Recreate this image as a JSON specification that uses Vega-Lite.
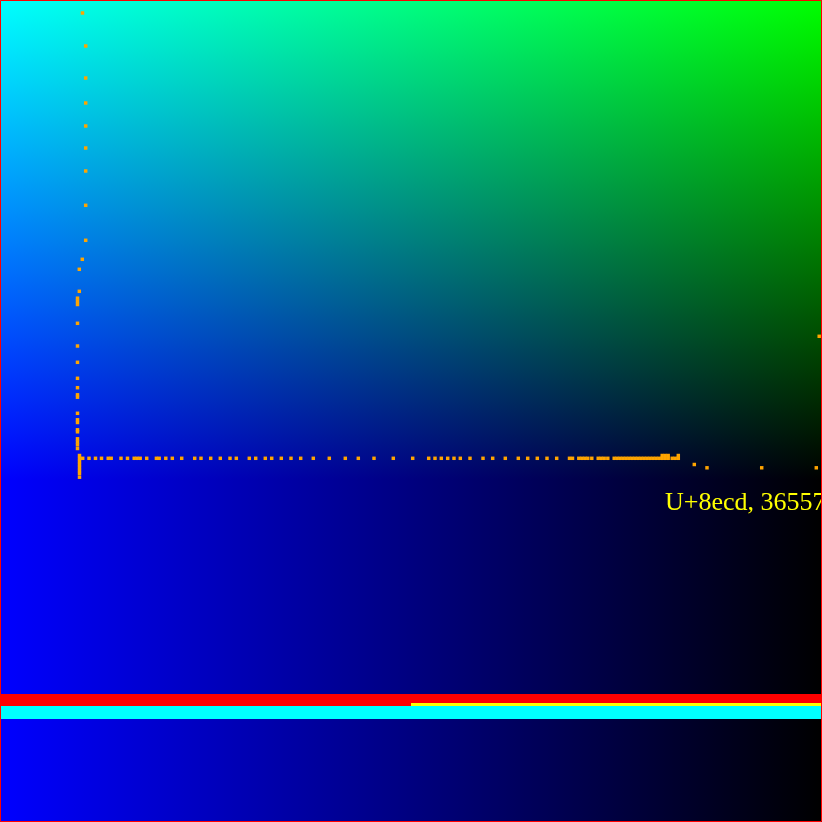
{
  "$schema": "https://vega.github.io/schema/vega-lite/v6.json",
  "width": 822,
  "height": 822,
  "padding": 0,
  "autosize": {"type": "none"},
  "background": "#000000",
  "config": {"view": {"stroke": null}},
  "datasets": {
    "bg": [{"x0": 0, "x1": 822, "y0": 0, "y1": 822}],
    "greenZone": [{"x0": 0, "x1": 822, "y0": 0, "y1": 480}],
    "bands": [
      {"band": "red", "x0": 0, "x1": 822, "y0": 694, "y1": 706},
      {"band": "yellow", "x0": 411, "x1": 822, "y0": 703, "y1": 706},
      {"band": "cyan", "x0": 0, "x1": 822, "y0": 706, "y1": 719}
    ],
    "border": [{"x0": 0.5, "x1": 821.5, "y0": 0.5, "y1": 821.5}],
    "label": [{"x": 665, "y": 510, "text": "U+8ecd, 36557"}],
    "dots": [
      {"x": 82.5, "y": 13}, {"x": 85.7, "y": 46}, {"x": 85.7, "y": 78}, {"x": 85.7, "y": 103},
      {"x": 85.7, "y": 126}, {"x": 85.7, "y": 148}, {"x": 85.7, "y": 171}, {"x": 85.7, "y": 205.3},
      {"x": 85.7, "y": 240.3}, {"x": 82.3, "y": 259.3}, {"x": 79.3, "y": 269.3}, {"x": 79.3, "y": 291.3},
      {"x": 77.5, "y": 298.2}, {"x": 77.5, "y": 301.3}, {"x": 77.5, "y": 304.5},
      {"x": 77.5, "y": 323.3}, {"x": 77.5, "y": 346}, {"x": 77.5, "y": 362.3}, {"x": 77.5, "y": 378.3},
      {"x": 77.5, "y": 387.7}, {"x": 77.5, "y": 394.8}, {"x": 77.5, "y": 397.2}, {"x": 77.5, "y": 413.3},
      {"x": 77.5, "y": 419.8}, {"x": 77.5, "y": 422.5}, {"x": 77.5, "y": 429.8}, {"x": 77.5, "y": 431.8},
      {"x": 77.5, "y": 438.8}, {"x": 77.5, "y": 441.8}, {"x": 77.5, "y": 444.8}, {"x": 77.5, "y": 448.5},
      {"x": 79.5, "y": 455.5}, {"x": 79.5, "y": 458.5}, {"x": 79.5, "y": 461.5}, {"x": 79.5, "y": 464.5},
      {"x": 79.5, "y": 467.5}, {"x": 79.5, "y": 470.5}, {"x": 79.5, "y": 473.5}, {"x": 79.5, "y": 477.2},
      {"x": 82.7, "y": 458.3}, {"x": 89, "y": 458.3}, {"x": 95.5, "y": 458.3}, {"x": 101.5, "y": 458.3},
      {"x": 108.2, "y": 458.3}, {"x": 111.2, "y": 458.3}, {"x": 121, "y": 458.3}, {"x": 127.5, "y": 458.3},
      {"x": 134.2, "y": 458.3}, {"x": 137.2, "y": 458.3}, {"x": 140.2, "y": 458.3}, {"x": 146.7, "y": 458.3},
      {"x": 156.4, "y": 458.3}, {"x": 159.2, "y": 458.3}, {"x": 165.8, "y": 458.3}, {"x": 172.3, "y": 458.3},
      {"x": 181.7, "y": 458.3}, {"x": 194.7, "y": 458.3}, {"x": 201, "y": 458.3}, {"x": 210.7, "y": 458.3},
      {"x": 220.3, "y": 458.3}, {"x": 230, "y": 458.3}, {"x": 236.3, "y": 458.3}, {"x": 249.3, "y": 458.3},
      {"x": 255.7, "y": 458.3}, {"x": 265.3, "y": 458.3}, {"x": 271.7, "y": 458.3}, {"x": 281.3, "y": 458.3},
      {"x": 291, "y": 458.3}, {"x": 300.7, "y": 458.3}, {"x": 313.3, "y": 458.3}, {"x": 329.3, "y": 458.3},
      {"x": 345.3, "y": 458.3}, {"x": 358.3, "y": 458.3}, {"x": 374, "y": 458.3}, {"x": 393.3, "y": 458.3},
      {"x": 412.7, "y": 458.3}, {"x": 428.7, "y": 458.3}, {"x": 435, "y": 458.3}, {"x": 441.3, "y": 458.3},
      {"x": 447.7, "y": 458.3}, {"x": 454, "y": 458.3}, {"x": 460.3, "y": 458.3}, {"x": 470, "y": 458.3},
      {"x": 483, "y": 458.3}, {"x": 492.7, "y": 458.3}, {"x": 505.3, "y": 458.3}, {"x": 518.3, "y": 458.3},
      {"x": 527.7, "y": 458.3}, {"x": 537.3, "y": 458.3}, {"x": 547, "y": 458.3}, {"x": 556.7, "y": 458.3},
      {"x": 569.5, "y": 458.3}, {"x": 572.5, "y": 458.3}, {"x": 578.8, "y": 458.3}, {"x": 581.8, "y": 458.3},
      {"x": 584.8, "y": 458.3}, {"x": 587.8, "y": 458.3}, {"x": 591.8, "y": 458.3}, {"x": 598.2, "y": 458.3},
      {"x": 601.2, "y": 458.3}, {"x": 604.2, "y": 458.3}, {"x": 607.8, "y": 458.3}, {"x": 614.2, "y": 458.3},
      {"x": 617.2, "y": 458.3}, {"x": 620.2, "y": 458.3}, {"x": 623.2, "y": 458.3}, {"x": 626.2, "y": 458.3},
      {"x": 629.2, "y": 458.3}, {"x": 632.2, "y": 458.3}, {"x": 635.2, "y": 458.3}, {"x": 638.2, "y": 458.3},
      {"x": 641.2, "y": 458.3}, {"x": 644.2, "y": 458.3}, {"x": 647.2, "y": 458.3}, {"x": 650.2, "y": 458.3},
      {"x": 653.2, "y": 458.3}, {"x": 656.2, "y": 458.3}, {"x": 659.2, "y": 458.3}, {"x": 662.2, "y": 458.3},
      {"x": 665.2, "y": 458.3}, {"x": 668.2, "y": 458.3}, {"x": 672.2, "y": 458.3}, {"x": 675.2, "y": 458.3},
      {"x": 678.3, "y": 458.3}, {"x": 662.2, "y": 455.5}, {"x": 665.2, "y": 455.5}, {"x": 668.2, "y": 455.5},
      {"x": 678.3, "y": 455.5},
      {"x": 694.3, "y": 464.5}, {"x": 707, "y": 467.8}, {"x": 761.7, "y": 467.8}, {"x": 816.3, "y": 467.8},
      {"x": 819.2, "y": 336.3}
    ]
  },
  "resolve": {"scale": {"x": "shared", "y": "shared"}},
  "layer": [
    {
      "data": {"name": "bg"},
      "mark": {
        "type": "rect",
        "color": {
          "gradient": "linear", "x1": 0, "y1": 0, "x2": 1, "y2": 0,
          "stops": [{"offset": 0, "color": "#0000ff"}, {"offset": 1, "color": "#000000"}]
        }
      },
      "encoding": {
        "x": {"field": "x0", "type": "quantitative", "scale": {"domain": [0, 822], "nice": false, "zero": false}, "axis": null},
        "x2": {"field": "x1"},
        "y": {"field": "y0", "type": "quantitative", "scale": {"domain": [0, 822], "nice": false, "zero": false, "reverse": true}, "axis": null},
        "y2": {"field": "y1"}
      }
    },
    {
      "data": {"name": "greenZone"},
      "mark": {
        "type": "rect",
        "blend": "screen",
        "color": {
          "gradient": "linear", "x1": 0, "y1": 0, "x2": 0, "y2": 1,
          "stops": [{"offset": 0, "color": "#00ff00"}, {"offset": 1, "color": "#000000"}]
        }
      },
      "encoding": {
        "x": {"field": "x0", "type": "quantitative"},
        "x2": {"field": "x1"},
        "y": {"field": "y0", "type": "quantitative"},
        "y2": {"field": "y1"}
      }
    },
    {
      "data": {"name": "dots"},
      "mark": {"type": "square", "size": 12, "color": "#ffa500", "opacity": 1},
      "encoding": {
        "x": {"field": "x", "type": "quantitative"},
        "y": {"field": "y", "type": "quantitative"}
      }
    },
    {
      "data": {"name": "label"},
      "mark": {"type": "text", "font": "Liberation Serif", "fontSize": 26, "color": "#ffff00", "align": "left", "baseline": "alphabetic"},
      "encoding": {
        "x": {"field": "x", "type": "quantitative"},
        "y": {"field": "y", "type": "quantitative"},
        "text": {"field": "text"}
      }
    },
    {
      "data": {"name": "bands"},
      "mark": {"type": "rect", "opacity": 1},
      "encoding": {
        "x": {"field": "x0", "type": "quantitative"},
        "x2": {"field": "x1"},
        "y": {"field": "y0", "type": "quantitative"},
        "y2": {"field": "y1"},
        "color": {"field": "band", "type": "nominal", "scale": {"domain": ["red", "yellow", "cyan"], "range": ["#ff0000", "#ffff00", "#00ffff"]}, "legend": null}
      }
    },
    {
      "data": {"name": "border"},
      "mark": {"type": "rect", "fill": null, "filled": false, "stroke": "#ff0000", "strokeWidth": 1},
      "encoding": {
        "x": {"field": "x0", "type": "quantitative"},
        "x2": {"field": "x1"},
        "y": {"field": "y0", "type": "quantitative"},
        "y2": {"field": "y1"}
      }
    }
  ]
}
